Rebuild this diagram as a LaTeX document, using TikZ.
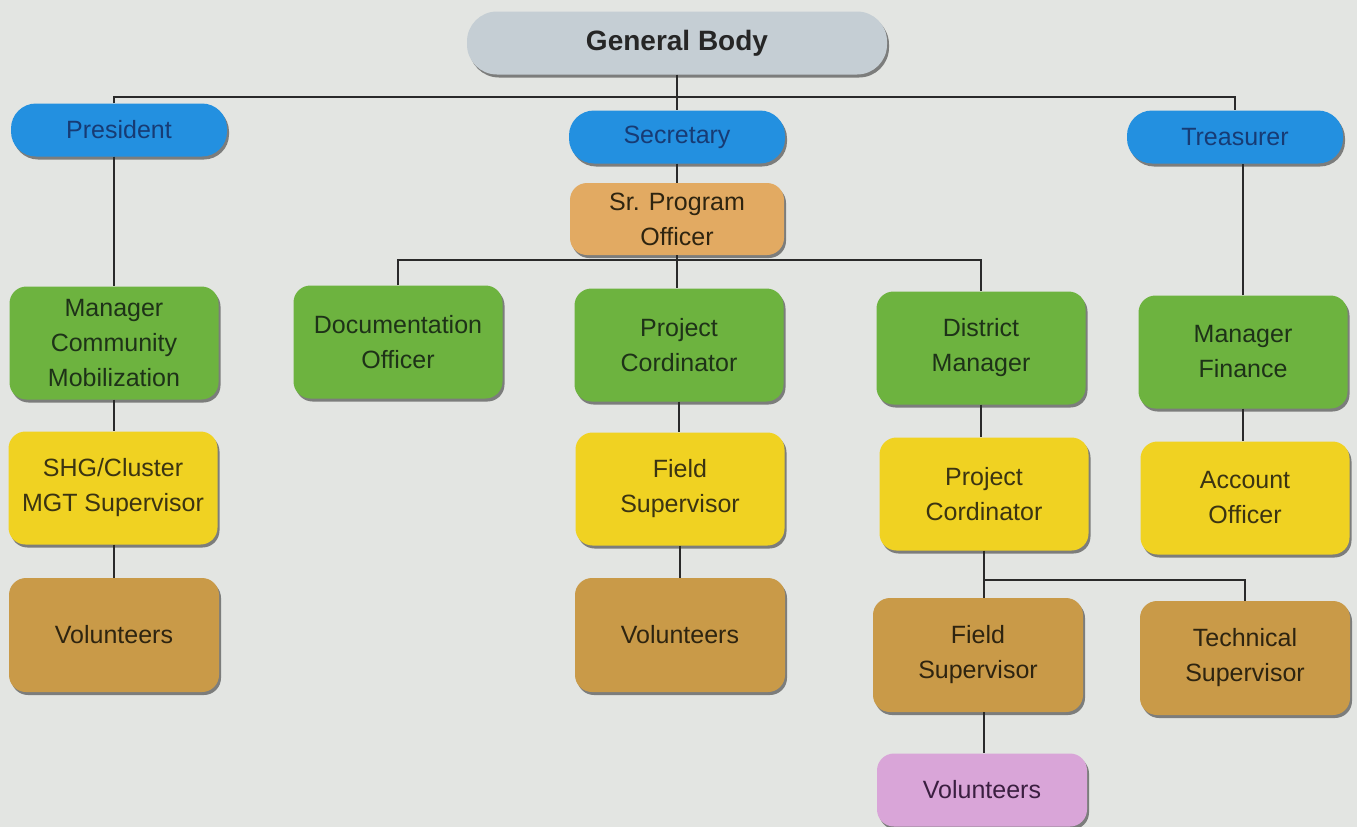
\documentclass[tikz,border=0pt]{standalone}
\usepackage{fontspec}
\setmainfont{Liberation Sans}
\usetikzlibrary{shadows}
\definecolor{bg}{HTML}{E3E5E2}
\definecolor{gbfill}{HTML}{C5CED4}
\definecolor{bluefill}{HTML}{2390E0}
\definecolor{bluetext}{HTML}{173B74}
\definecolor{tanfill}{HTML}{E2AA62}
\definecolor{greenfill}{HTML}{6DB33F}
\definecolor{greentext}{HTML}{1E3218}
\definecolor{yellowfill}{HTML}{F0D222}
\definecolor{yellowtext}{HTML}{3B3412}
\definecolor{brownfill}{HTML}{C99A48}
\definecolor{browntext}{HTML}{2E2410}
\definecolor{purplefill}{HTML}{D9A5D8}
\definecolor{purpletext}{HTML}{3A1F40}
\definecolor{linecol}{HTML}{2A2A2A}
\tikzset{
  box/.style={rounded corners=17pt, draw=none, align=center, inner sep=0pt,
    font=\fontsize{25}{35}\selectfont,
    drop shadow={shadow xshift=2pt, shadow yshift=-3pt, fill=black, opacity=0.45}},
  pill/.style={box, rounded corners=25pt, minimum width=216pt, minimum height=53pt, fill=bluefill, text=bluetext},
  greenbox/.style={box, fill=greenfill, text=greentext, minimum width=209pt, minimum height=113pt},
  yellowbox/.style={box, fill=yellowfill, text=yellowtext, minimum width=209pt, minimum height=113pt},
  brownbox/.style={box, fill=brownfill, text=browntext, minimum width=210pt, minimum height=114pt},
  conn/.style={draw=linecol, line width=2pt},
}
\begin{document}
\begin{tikzpicture}[x=1pt,y=-1pt]
\fill[bg] (0,0) rectangle (1357,827);
\useasboundingbox (0,0) rectangle (1357,827);

% top
\node[box, rounded corners=30pt, fill=gbfill, text=black!85, minimum width=420pt, minimum height=63pt, font=\fontsize{28}{32}\selectfont\bfseries] (gb) at (677,43) {General Body};

% officers
\node[pill] (pres) at (119,130) {President};
\node[pill] (sec) at (677,137) {Secretary};
\node[pill] (treas) at (1235,137) {Treasurer};

\node[box, fill=tanfill, text=browntext, minimum width=214pt, minimum height=72pt] (spo) at (677,219) {Sr. Program\\Officer};

% green row
\node[greenbox] (mcm) at (114,343) {Manager\\Community\\Mobilization};
\node[greenbox] (doc) at (398,342) {Documentation\\Officer};
\node[greenbox] (pc1) at (679,345) {Project\\Cordinator};
\node[greenbox] (dm) at (981,348) {District\\Manager};
\node[greenbox] (mf) at (1243,352) {Manager\\Finance};

% yellow row
\node[yellowbox] (shg) at (113,488) {SHG/Cluster\\MGT Supervisor};
\node[yellowbox] (fs1) at (680,489) {Field\\Supervisor};
\node[yellowbox] (pc2) at (984,494) {Project\\Cordinator};
\node[yellowbox] (ao) at (1245,498) {Account\\Officer};

% brown row
\node[brownbox] (vol1) at (114,635) {Volunteers};
\node[brownbox] (vol2) at (680,635) {Volunteers};
\node[brownbox] (fs2) at (978,655) {Field\\Supervisor};
\node[brownbox] (ts) at (1245,658) {Technical\\Supervisor};

% purple
\node[box, fill=purplefill, text=purpletext, minimum width=210pt, minimum height=73pt] (vol3) at (982,790) {Volunteers};

% connectors
\coordinate (bus1) at (677,97);
\draw[conn] (gb.south) -- (sec.north);
\draw[conn] (pres.north -| mcm.north) |- (bus1) -| (treas.north);
\draw[conn] (sec.south) -- (spo.north);
\coordinate (bus2) at (677,260);
\draw[conn] (doc.north) |- (bus2) -| (dm.north);
\draw[conn] (spo.south) -- (spo.south |- pc1.north);
\draw[conn] (pres.south -| mcm.north) -- (mcm.north);
\draw[conn] (mf.north) -- (mf.north |- treas.south);
\draw[conn] (mcm.south) -- (mcm.south |- shg.north);
\draw[conn] (shg.south -| vol1.north) -- (vol1.north);
\draw[conn] (pc1.south) -- (pc1.south |- fs1.north);
\draw[conn] (fs1.south -| vol2.north) -- (vol2.north);
\draw[conn] (dm.south) -- (dm.south |- pc2.north);
\draw[conn] (mf.south) -- (mf.south |- ao.north);
\draw[conn] (pc2.south) -- ++(0,29) coordinate (b3) -| (ts.north);
\draw[conn] (b3) -- (b3 |- fs2.north);
\draw[conn] (fs2.south -| b3) -- (vol3.north -| b3);
\end{tikzpicture}
\end{document}
